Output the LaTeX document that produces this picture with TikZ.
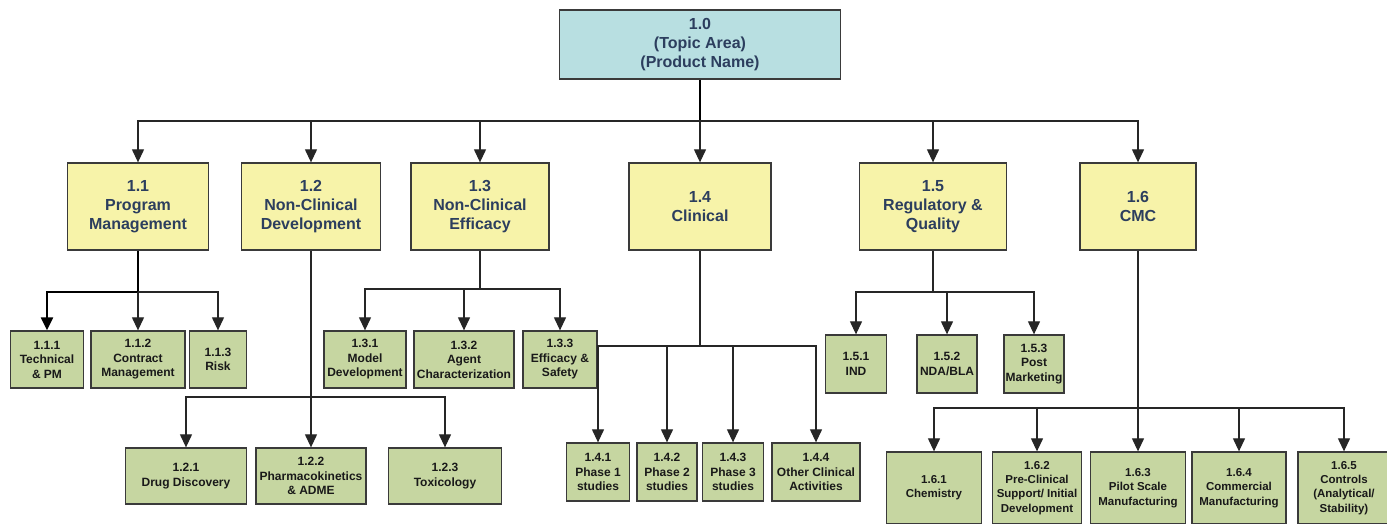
\documentclass[tikz,border=0pt]{standalone}
\usepackage{fontspec}
\setmainfont{Liberation Sans}
\usepackage{xcolor}
\usepackage{tikz}
\usetikzlibrary{arrows.meta}
\definecolor{wcyan}{HTML}{B8DFE1}
\definecolor{wyellow}{HTML}{F7F3A9}
\definecolor{wgreen}{HTML}{C6D6A1}
\definecolor{wnavy}{HTML}{2C3E5E}
\definecolor{wedge}{HTML}{3A3A3A}
\tikzset{
  wtip/.tip={Triangle[width=12pt,length=13pt]},
  wtop/.style={draw=wedge, fill=wcyan, line width=1.3pt, align=center, inner sep=0pt,
               font=\bfseries\fontsize{16}{19}\selectfont, text=wnavy},
  wmain/.style={draw=wedge, fill=wyellow, line width=1.3pt, align=center, inner sep=0pt,
                minimum height=87pt, font=\bfseries\fontsize{16}{19}\selectfont, text=wnavy},
  wsub/.style={draw=wedge, fill=wgreen, line width=1.3pt, align=center, inner sep=0pt,
               font=\bfseries\fontsize{12}{14.5}\selectfont, text=black!90},
  wline/.style={black!85, line width=1.2pt},
  wlink/.style={-wtip, black!85, line width=1.2pt},
  wbold/.style={black, line width=2.2pt},
}

\begin{document}
\begin{tikzpicture}[x=1pt,y=-1pt]

  \useasboundingbox[fill=white] (0,0) rectangle (1387,524);

  % top level
  \node[wtop, minimum width=281pt, minimum height=69pt] (top) at (700,44.5)
        {1.0\\(Topic Area)\\(Product Name)};

  % first level
  \node[wmain, minimum width=141pt] (prog)  at (138,206.5)  {1.1\\Program\\Management};
  \node[wmain, minimum width=139pt] (ncdev) at (311,206.5)  {1.2\\Non-Clinical\\Development};
  \node[wmain, minimum width=138pt] (nceff) at (480,206.5)  {1.3\\Non-Clinical\\Efficacy};
  \node[wmain, minimum width=142pt] (clin)  at (700,206.5)  {1.4\\Clinical};
  \node[wmain, minimum width=147pt] (regq)  at (933,206.5)  {1.5\\Regulatory \&\\Quality};
  \node[wmain, minimum width=116pt] (cmc)   at (1138,206.5) {1.6\\CMC};

  % 1.1 program management
  \node[wsub, minimum width=73pt, minimum height=57pt] (tech)  at (47,359.5)  {1.1.1\\Technical\\\& PM};
  \node[wsub, minimum width=94pt, minimum height=57pt] (contr) at (138,359.5) {1.1.2\\Contract\\Management};
  \node[wsub, minimum width=57pt, minimum height=57pt] (risk)  at (218,359.5) {1.1.3\\Risk};

  % 1.2 non-clinical development
  \node[wsub, minimum width=121pt, minimum height=56pt] (drug) at (186,476) {1.2.1\\Drug Discovery};
  \node[wsub, minimum width=110pt, minimum height=56pt] (pk)   at (311,476) {1.2.2\\Pharmacokinetics\\\& ADME};
  \node[wsub, minimum width=113pt, minimum height=56pt] (tox)  at (445,476) {1.2.3\\Toxicology};

  % 1.3 non-clinical efficacy
  \node[wsub, minimum width=82pt, minimum height=57pt]  (model)   at (365,359.5) {1.3.1\\Model\\Development};
  \node[wsub, minimum width=100pt, minimum height=57pt] (agent)   at (464,359.5) {1.3.2\\Agent\\Characterization};
  \node[wsub, minimum width=74pt, minimum height=57pt]  (effsafe) at (560,359.5) {1.3.3\\Efficacy \&\\Safety};

  % 1.4 clinical
  \node[wsub, minimum width=63pt, minimum height=58pt] (ph1)   at (598,472) {1.4.1\\Phase 1\\studies};
  \node[wsub, minimum width=60pt, minimum height=58pt] (ph2)   at (667,472) {1.4.2\\Phase 2\\studies};
  \node[wsub, minimum width=61pt, minimum height=58pt] (ph3)   at (733,472) {1.4.3\\Phase 3\\studies};
  \node[wsub, minimum width=88pt, minimum height=58pt] (other) at (816,472) {1.4.4\\Other Clinical\\Activities};

  % 1.5 regulatory
  \node[wsub, minimum width=61pt, minimum height=58pt] (ind)  at (856,364)  {1.5.1\\IND};
  \node[wsub, minimum width=60pt, minimum height=58pt] (nda)  at (947,364)  {1.5.2\\NDA/BLA};
  \node[wsub, minimum width=60pt, minimum height=58pt] (post) at (1034,364) {1.5.3\\Post\\Marketing};

  % 1.6 cmc
  \tikzset{wsub/.append style={font=\bfseries\fontsize{11.5}{14.3}\selectfont,
                               minimum height=72pt}}
  \node[wsub, minimum width=95pt] (chem)  at (934,488)  {1.6.1\\Chemistry};
  \node[wsub, minimum width=89pt] (pre)   at (1037,488) {1.6.2\\Pre-Clinical\\Support/ Initial\\Development};
  \node[wsub, minimum width=95pt] (pilot) at (1138,488) {1.6.3\\Pilot Scale\\Manufacturing};
  \node[wsub, minimum width=94pt] (comm)  at (1239,488) {1.6.4\\Commercial\\Manufacturing};
  \node[wsub, minimum width=92pt] (ctrl)  at (1344,488) {1.6.5\\Controls\\(Analytical/\\Stability)};

  % junctions
  \coordinate (j0) at (700,121);
  \coordinate (j1) at (138,292);
  \coordinate (j2) at (311,397);
  \coordinate (j3) at (480,289);
  \coordinate (j4) at (700,346);
  \coordinate (j5) at (933,292);
  \coordinate (j6) at (1138,408);

  % top to first level
  \draw[wbold] (top) -- (j0);
  \draw[wbold] (j0) -- (j0 -| prog);
  \foreach \n in {prog,ncdev,nceff,clin,regq,cmc}
    \draw[wlink] (j0) -| (\n);

  % 1.1
  \draw[wbold] (prog) -- (j1);
  \draw[wbold,-wtip] (j1) -| (tech);
  \draw[wlink] (j1) -| (contr);
  \draw[wlink] (j1) -| (risk);

  % 1.2
  \draw[wlink] (ncdev) -- (pk);
  \draw[wlink] (j2) -| (drug);
  \draw[wlink] (j2) -| (tox);

  % 1.3
  \draw[wline] (nceff) -- (j3);
  \foreach \n in {model,agent,effsafe}
    \draw[wlink] (j3) -| (\n);

  % 1.4
  \draw[wline] (clin) -- (j4);
  \foreach \n in {ph1,ph2,ph3,other}
    \draw[wlink] (j4) -| (\n);

  % 1.5
  \draw[wline] (regq) -- (j5);
  \foreach \n in {ind,nda,post}
    \draw[wlink] (j5) -| (\n);

  % 1.6
  \draw[wlink] (cmc) -- (pilot);
  \foreach \n in {chem,pre,comm,ctrl}
    \draw[wlink] (j6) -| (\n);

\end{tikzpicture}
\end{document}
